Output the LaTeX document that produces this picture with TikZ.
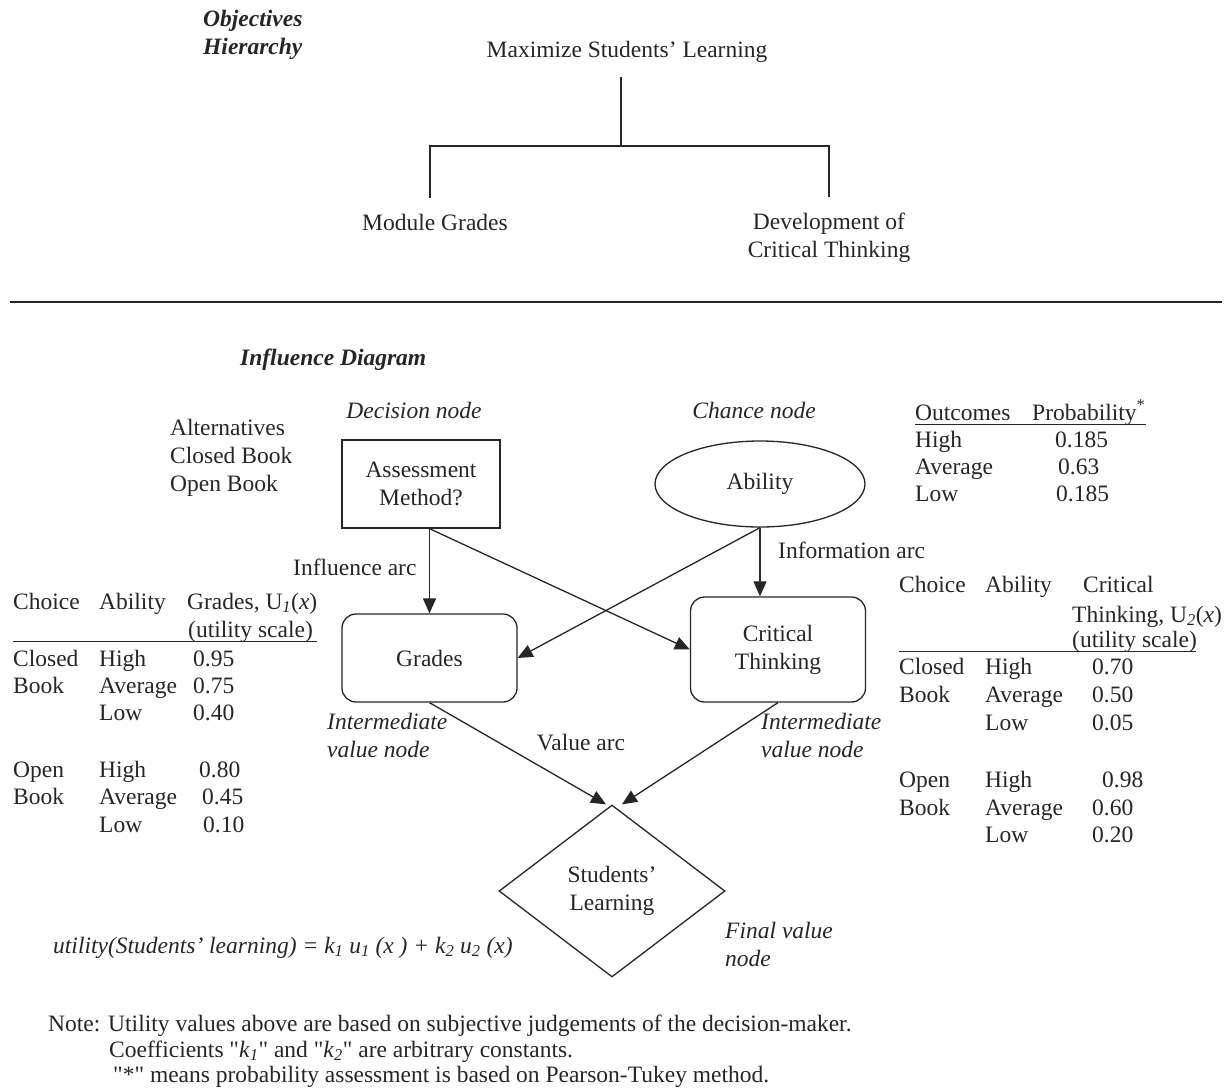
\documentclass[tikz,border=0pt]{standalone}
\usepackage{fontspec}
\setmainfont{Liberation Serif}
\newfontfamily\qfont{Liberation Serif}
\usetikzlibrary{arrows.meta,positioning,shapes.geometric}
\definecolor{idink}{HTML}{262626}
\newcommand{\idsize}{\fontsize{23.5}{28}\selectfont}
\newcommand{\sq}{{\qfont"}}

\begin{document}
\begin{tikzpicture}[x=1pt,y=-1pt,
  every node/.style={font=\idsize,text=idink,inner sep=0pt},
  T/.style={anchor=base west},
  I/.style={font=\idsize\itshape},
  H/.style={font=\idsize\bfseries\itshape},
  D/.style={draw=idink,line width=1.3pt,minimum width=158pt,
            minimum height=88pt,align=center},
  C/.style={ellipse,draw=idink,line width=1.3pt,
            minimum width=210pt,minimum height=86pt},
  V/.style={draw=idink,line width=1.3pt,rounded corners=14pt,
            minimum width=175pt,align=center},
  F/.style={diamond,draw=idink,line width=1.3pt,aspect=1.3,
            minimum width=226pt,minimum height=172pt,align=center},
  ln/.style={draw=idink,line width=1.3pt},
  ar/.style={-{Triangle[length=15pt,width=13pt]},line width=1.3pt,idink}
]
\useasboundingbox (0,0) rectangle (1229,1088);

% objectives hierarchy
\node[H,align=left,anchor=west](ttl) at (203,35) {Objectives\\Hierarchy};
\node[anchor=base](top) at (627,57) {Maximize Students' Learning};
\node[anchor=base](mg) at (435,230) {Module Grades};
\node[align=center](dct) at (829,238) {Development of\\Critical Thinking};
\coordinate (j) at (621,146);
\draw[ln,shorten <=15pt](top.south -| j)--(j);
\draw[ln,shorten <=16pt,shorten >=16pt]([xshift=-5pt]mg.north) |- (j) -| (dct.north);
\coordinate (r1) at (10,302);
\coordinate (r2) at (1222,302);
\draw[ln](r1)--(r2);

% influence diagram
\node[H,T](idg) at (240,365) {Influence Diagram};
\node[D](dec) at (421,484) {Assessment\\Method?};
\node[C](abil) at (760,484) {Ability};
\node[V,minimum height=88pt](grd) at (429.5,658) {Grades};
\node[V,minimum height=105pt](crt) at (778,649.5) {Critical\\Thinking};
\node[F](stu) at (612,891) {Students'\\Learning};
\node[I,above=20pt of dec,xshift=-7pt](dl) {Decision node};
\node[I,above=21pt of abil,xshift=-6pt](cl) {Chance node};
\node[align=left,anchor=west](alt) at (170,458) {Alternatives\\Closed Book\\Open Book};
\node[T](infl) at (293,575) {Influence arc};
\node[T](info) at (778,558) {Information arc};
\node[anchor=base](val) at (581,750) {Value arc};
\node[I,align=left,anchor=west](iml) at (327,735) {Intermediate\\value node};
\node[I,align=left,anchor=west](imr) at (761,735) {Intermediate\\value node};
\node[I,align=left,anchor=west](fvn) at (725,944) {Final value\\node};

\coordinate (da) at (dec.south -| grd.north);
\draw[ar](da)--(grd.north);
\draw[ar](da)--(crt.west);
\draw[ar](abil.south)--(crt.north -| abil.south);
\draw[ar](abil.south)--(grd.east);
\draw[ar](grd.south)--([xshift=-6pt]stu.north);
\draw[ar](crt.south)--([xshift=10pt]stu.north);

% probabilities
\node[T](oc) at (915,420) {Outcomes};
\node[T](pb) at (1032,420) {Probability\textsuperscript{*}};
\draw[ln,line width=1pt]([yshift=-4pt]oc.base west)--([yshift=-4pt]pb.base east);
\foreach \o/\p/\xp/\yb [count=\k] in {High/0.185/1055/447,Average/0.63/1058/474,Low/0.185/1056/501}{
  \node[T](po\k) at (915,\yb) {\o};
  \node[T](pv\k) at (\xp,\yb) {\p};
}

% grades table
\node[T](lh1) at (13,609) {Choice};
\node[T](lh2) at (99,609) {Ability};
\node[T](lh3) at (187,609) {Grades, U\textsubscript{\itshape 1}(\textit{x})};
\node[T](lh4) at (188,637) {(utility scale)};
\coordinate (lr1) at (13,641);
\coordinate (lr2) at (317,641);
\draw[ln,line width=1pt](lr1)--(lr2);
\foreach \c/\a/\v/\xv/\yb [count=\k] in {Closed/High/0.95/193/666,Book/Average/0.75/193/693,/Low/0.40/193/720,
    Open/High/0.80/199/777,Book/Average/0.45/202/804,/Low/0.10/203/832}{
  \node[T](lc\k) at (13,\yb) {\c};
  \node[T](la\k) at (99,\yb) {\a};
  \node[T](lv\k) at (\xv,\yb) {\v};
}

% critical thinking table
\node[T](rh1) at (899,592) {Choice};
\node[T](rh2) at (985,592) {Ability};
\node[T](rh3) at (1083,592) {Critical};
\node[T](rh4) at (1072,622) {Thinking, U\textsubscript{\itshape 2}(\textit{x})};
\node[T](rh5) at (1072,647) {(utility scale)};
\coordinate (rr1) at (899,651);
\coordinate (rr2) at (1196,651);
\draw[ln,line width=1pt](rr1)--(rr2);
\foreach \c/\a/\v/\xv/\yb [count=\k] in {Closed/High/0.70/1092/674,Book/Average/0.50/1092/702,/Low/0.05/1092/730,
    Open/High/0.98/1102/787,Book/Average/0.60/1092/815,/Low/0.20/1092/842}{
  \node[T](rc\k) at (899,\yb) {\c};
  \node[T](ra\k) at (985,\yb) {\a};
  \node[T](rv\k) at (\xv,\yb) {\v};
}

% utility and notes
\node[I,T](util) at (53,953) {utility(Students' learning) = k\textsubscript{1} u\textsubscript{1} (x ) + k\textsubscript{2} u\textsubscript{2} (x)};
\node[T](n1) at (48,1031) {Note: Utility values above are based on subjective judgements of the decision-maker.};
\node[T](n2) at (109,1057) {Coefficients \sq\textit{k}\textsubscript{\itshape 1}\sq{} and \sq\textit{k}\textsubscript{\itshape 2}\sq{} are arbitrary constants.};
\node[T](n3) at (113,1082) {\sq*\sq{} means probability assessment is based on Pearson-Tukey method.};
\end{tikzpicture}
\end{document}
